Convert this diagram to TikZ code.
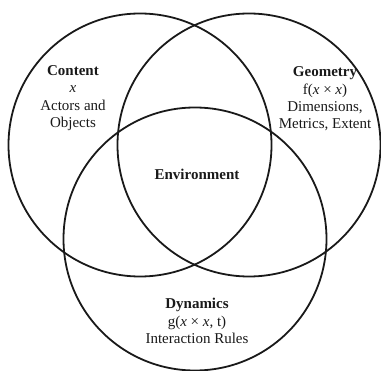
\documentclass[tikz,border=0pt]{standalone}
\usepackage{fontspec}
\setmainfont{Liberation Serif}
\begin{document}
\begin{tikzpicture}[x=1pt,y=-1pt,
  ring/.style={circle,draw=black!90,line width=1.8pt,minimum size=263pt,inner sep=0pt},
  lbl/.style={align=center,font=\fontsize{15}{17.3}\selectfont,inner sep=0pt,text=black!90}]
\useasboundingbox (0,0) rectangle (381,371);
\node[ring] (content) at (140,145) {};
\node[ring] (geometry) at (249,145) {};
\node[ring] (dynamics) at (195,239) {};
\node[lbl] (tcontent) at (73,98) {\textbf{Content}\\ \textit{x}\\ Actors and\\ Objects};
\node[lbl] (tgeometry) at (325,99) {\textbf{Geometry}\\ f(\textit{x} × \textit{x})\\ Dimensions,\\ Metrics, Extent};
\node[lbl] (tenv) at (197,174) {\textbf{Environment}};
\node[lbl] (tdyn) at (197,321) {\textbf{Dynamics}\\ g(\textit{x} × \textit{x}, t)\\ Interaction Rules};
\end{tikzpicture}
\end{document}
